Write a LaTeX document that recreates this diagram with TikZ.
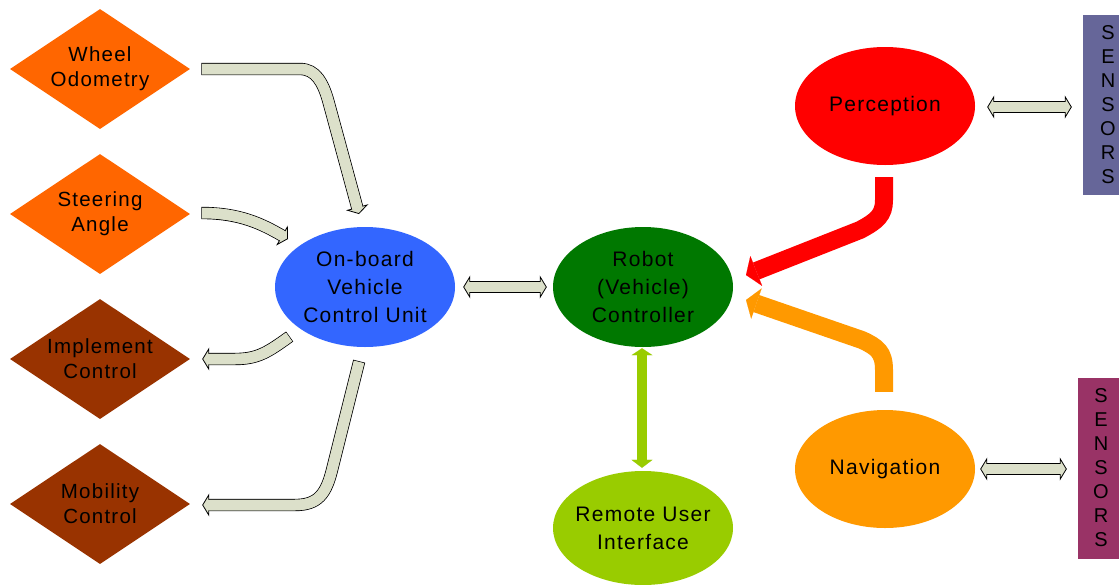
\documentclass[tikz,border=0pt]{standalone}
\usepackage{fontspec}
\setmainfont{Liberation Sans}[LetterSpace=6]
\usetikzlibrary{shapes.geometric,arrows.meta,calc}
\definecolor{agrey}{RGB}{220,224,202}
\definecolor{dorange}{RGB}{255,102,0}
\definecolor{dbrown}{RGB}{153,51,0}
\definecolor{oblue}{RGB}{51,102,255}
\definecolor{rgreen}{RGB}{0,120,0}
\definecolor{lgreen}{RGB}{153,204,0}
\definecolor{pred}{RGB}{255,0,0}
\definecolor{norange}{RGB}{255,153,0}
\definecolor{sblue}{RGB}{102,102,153}
\definecolor{spurple}{RGB}{153,51,102}
\begin{document}
\begin{tikzpicture}[x=1pt,y=-1pt,
  every node/.style={font=\fontsize{21}{28}\selectfont, align=center, inner sep=0pt},
  diam/.style={diamond, aspect=1.5, inner sep=-12pt, minimum width=180pt, minimum height=120pt, font=\fontsize{20.5}{25}\selectfont},
  ell/.style={ellipse, inner sep=-10pt, minimum width=180pt, minimum height=120pt},
  sens/.style={rectangle, minimum width=50pt, minimum height=180pt, font=\fontsize{20}{24}\selectfont},
  garrow/.style={draw=agrey, line width=10.5pt, -{Triangle[length=7pt,width=23pt,line width=0.8pt,color=black,fill=agrey]},
    preaction={draw=black, line width=12.3pt, arrows=-, shorten >=6.6pt, shorten <=-0.8pt},
    postaction={draw=agrey, line width=10.5pt, arrows=-, shorten >=5.6pt}},
  gdarrow/.style={draw=agrey, line width=10.5pt,
    {Triangle[length=7pt,width=23pt,line width=0.8pt,color=black,fill=agrey]}-{Triangle[length=7pt,width=23pt,line width=0.8pt,color=black,fill=agrey]},
    preaction={draw=black, line width=12.3pt, arrows=-, shorten >=6.6pt, shorten <=6.6pt},
    postaction={draw=agrey, line width=10.5pt, arrows=-, shorten >=5.6pt, shorten <=5.6pt}},
  sarrow/.style={line width=18pt, -{Triangle[length=11pt,width=32pt,line width=0.1pt]}},
  vdarrow/.style={draw=lgreen, line width=10pt,
    {Triangle[length=7pt,width=21pt,line width=0.1pt]}-{Triangle[length=8pt,width=21pt,line width=0.1pt]}}
]
\path[use as bounding box, fill=white] (0,0) rectangle (1119,584);

% diamonds
\node[diam, fill=dorange] (wo) at (100,69) {Wheel\\Odometry};
\node[diam, fill=dorange] (sa) at (100,214) {Steering\\Angle};
\node[diam, fill=dbrown] (ic) at (100,359) {Implement\\Control};
\node[diam, fill=dbrown] (mc) at (100,504) {Mobility\\Control};

% ellipses
\node[ell, fill=oblue] (ob) at (365,287) {On-board\\Vehicle\\Control Unit};
\node[ell, fill=rgreen] (rc) at (643,287) {Robot\\(Vehicle)\\Controller};
\node[ell, fill=lgreen, minimum height=114pt] (rui) at (643,528) {Remote User\\Interface};
\node[ell, fill=pred, minimum height=118pt] (per) at (885,106) {Perception};
\node[ell, fill=norange, minimum height=118pt] (nav) at (885,469) {Navigation};

% sensors
\node[sens, fill=sblue] (s1) at (1108,105) {S\\E\\N\\S\\O\\R\\S};
\node[sens, fill=spurple, minimum width=46pt, minimum height=181pt] (s2) at (1101,468) {S\\E\\N\\S\\O\\R\\S};

% coordinates for bent connectors
\coordinate (a1s) at ($(wo.east)+(12,0)$);
\coordinate (a1e) at (359,214);
\coordinate (a2s) at ($(sa.east)+(12,-1)$);
\coordinate (a2e) at (288,239);
\coordinate (a3s) at (289,337);
\coordinate (a3e) at ($(ic.east)+(12,0)$);
\coordinate (a4s) at (359,362);
\coordinate (a4e) at ($(mc.east)+(12,1)$);
\coordinate (ps) at ($(per.south)+(-1,12)$);
\coordinate (pe) at (746,275);
\coordinate (ns) at ($(nav.north)+(-1,-18)$);
\coordinate (ne) at (746,300);

% grey block arrows
\draw[garrow] (a1s) -- (300,69) .. controls (316,69) and (323,83) .. (328,100) -- (a1e);
\draw[garrow] (a2s) .. controls (240,213) and (262,224) .. (a2e);
\draw[garrow] (a3s) .. controls (268,352) and (258,359) .. (235,359) -- (a3e);
\draw[garrow] (a4s) -- (332,470) .. controls (326,494) and (318,505) .. (295,505) -- (a4e);

\draw[gdarrow] ($(ob.east)+(8,0)$) -- ($(rc.west)+(-6,0)$);
\draw[gdarrow] ($(per.east)+(12,1)$) -- ($(s1.west |- per.east)+(-11,1)$);
\draw[gdarrow] ($(nav.east)+(5,0)$) -- ($(s2.west |- nav.east)+(-11,0)$);

% coloured arrows
\draw[sarrow, draw=pred] (ps) -- (884,200) .. controls (884,215) and (877,221) .. (860,230) -- (pe);
\draw[sarrow, draw=norange] (ns) -- (884,370) .. controls (884,352) and (877,347) .. (862,340) -- (ne);
\draw[vdarrow] ($(rc.south)+(-1,1)$) -- ($(rui.north)+(-1,-3)$);
\end{tikzpicture}
\end{document}
